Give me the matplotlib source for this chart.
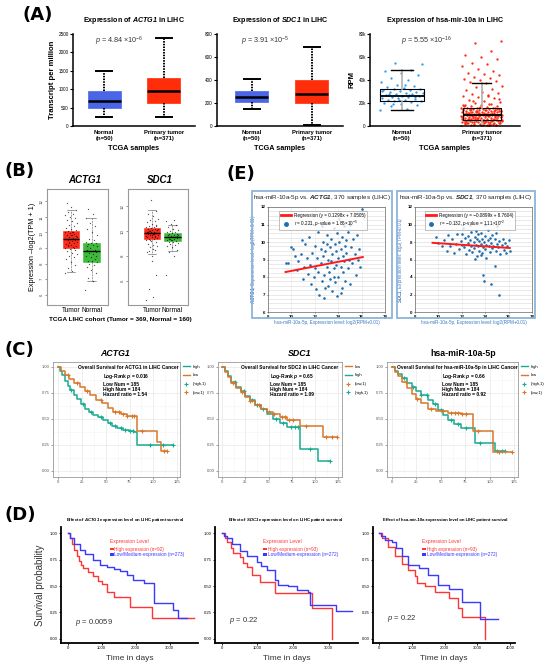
import numpy as np
import matplotlib.pyplot as plt
from matplotlib.patches import Rectangle
from matplotlib.lines import Line2D
from matplotlib.ticker import AutoMinorLocator

plt.rcParams['font.family'] = ['Liberation Sans', 'DejaVu Sans']
plt.rcParams['mathtext.fontset'] = 'custom'
plt.rcParams['mathtext.rm'] = 'Liberation Sans'
plt.rcParams['mathtext.it'] = 'Liberation Sans:italic'
plt.rcParams['mathtext.bf'] = 'Liberation Sans:bold'
plt.rcParams['mathtext.cal'] = 'Liberation Sans:italic:bold'   # used for bold italic gene names

# ---------------- (A) TCGA box plots ----------------
groups_a = ['Normal\n(n=50)', 'Primary tumor\n(n=371)']
# whisker low, q1, median, q3, whisker high
actg1_tpm = [[250, 500, 680, 950, 1500], [250, 620, 960, 1310, 2380]]
sdc1_tpm = [[145, 210, 250, 305, 405], [10, 200, 280, 400, 690]]
mir_rpm = [[13.5, 22, 26, 32, 49], [0, 5, 10, 16, 37]]  # thousands
p_a = ['4.84', '3.91', '5.55']
p_a_exp = ['-6', '-5', '-16']
mir_normal_pts = [13.5, 15, 17, 18, 19, 20, 21, 21.5, 22, 22.5, 23, 23.5, 24, 24.5, 25, 25.5,
                  26, 26.5, 27, 27.5, 28, 28.5, 29, 29.5, 30, 30.5, 31, 31.5, 32, 32.5, 33, 34,
                  35, 36, 38, 40, 42, 44, 46, 48, 49, 55, 54, 35.5, 28.2, 25.2, 22.3, 30.2, 27.3, 19.5]
mir_tumor_pts = [0.2, 0.5, 0.8, 1, 1.2, 1.5, 1.8, 2, 2.2, 2.5, 2.8, 3, 3.2, 3.4, 3.6, 3.8, 4, 4.1,
                 4.2, 4.3, 4.4, 4.5, 4.6, 4.7, 4.8, 4.9, 5, 0.3, 1.1, 2.6,
                 5.2, 5.4, 5.6, 5.8, 6, 6.2, 6.4, 6.6, 6.8, 7, 7.2, 7.4, 7.6, 7.8, 8, 8.2, 8.4,
                 8.6, 8.8, 9, 9.1, 9.2, 9.3, 9.4, 9.5, 9.6, 9.7, 9.8, 9.9, 10,
                 10.2, 10.4, 10.6, 10.8, 11, 11.2, 11.4, 11.6, 11.8, 12, 12.2, 12.4, 12.6, 12.8,
                 13, 13.2, 13.4, 13.6, 13.8, 14, 14.2, 14.4, 14.6, 14.8, 15, 15.2, 15.4, 15.6, 15.8, 16,
                 16.5, 17, 17.5, 18, 18.5, 19, 20, 21, 22, 23, 24, 25, 26, 27, 28, 29, 30, 31, 32,
                 34, 35, 37, 38, 39, 40, 41, 42, 43, 44, 45, 46, 48, 50, 52, 54, 55, 58, 60, 62, 65, 72, 74,
                 3.3, 6.1, 8.7, 11.5, 14.1, 2.1, 7.3, 12.9, 4.4, 9.9, 1.7, 13.3, 5.5, 10.7, 15.1,
                 0.6, 1.4, 2.4, 3.1, 3.9, 4.6, 5.3, 5.9, 6.5, 7.1, 7.7, 8.3, 8.9, 9.4, 10.1, 10.9,
                 11.7, 12.3, 13.1, 13.9, 14.7, 15.5, 16.8, 17.8, 19.5, 21.5, 23.5, 0.9, 2.9, 4.8,
                 6.9, 8.5, 10.5, 12.1, 14.5, 1.3, 3.7, 5.1, 6.3, 7.9, 9.2, 11.1, 12.7, 15.9, 18.2, 26.5]

# ---------------- (B) GEPIA box plots ----------------
groups_b = ['Tumor', 'Normal']
actg1_log = [[7.45, 9.0, 9.6, 10.1, 11.45], [6.9, 8.1, 8.8, 9.35, 10.9]]
sdc1_log = [[8.2, 9.34, 9.87, 10.26, 11.7], [8.4, 9.23, 9.52, 9.87, 10.5]]
actg1_tumor_pts = [7.4, 7.5, 7.7, 7.9, 8.1, 8.3, 8.4, 8.5, 8.6, 8.7, 8.8, 8.9, 8.95, 9.0, 9.05, 9.1,
                   9.15, 9.2, 9.25, 9.3, 9.35, 9.4, 9.45, 9.5, 9.55, 9.6, 9.6, 9.65, 9.7, 9.75, 9.8,
                   9.85, 9.9, 9.95, 10.0, 10.05, 10.1, 10.15, 10.2, 10.3, 10.4, 10.5, 10.6, 10.7,
                   10.8, 10.9, 11.0, 11.1, 11.2, 11.3, 11.45, 11.6, 11.9, 9.0, 9.4, 9.7, 10.0, 9.2, 9.5, 9.8]
actg1_normal_pts = [6.3, 6.9, 7.1, 7.4, 7.6, 7.8, 7.9, 8.0, 8.1, 8.15, 8.2, 8.3, 8.4, 8.5, 8.6, 8.7,
                    8.75, 8.8, 8.85, 8.9, 9.0, 9.1, 9.2, 9.25, 9.3, 9.35, 9.4, 9.5, 9.6, 9.8, 10.0,
                    10.2, 10.4, 10.6, 10.9, 11.2, 11.5, 8.5, 8.8, 9.1]
sdc1_tumor_pts = [4.5, 4.75, 5.4, 6.5, 8.0, 8.3, 8.5, 8.7, 8.8, 8.9, 9.0, 9.1, 9.2, 9.3, 9.35, 9.4,
                  9.45, 9.5, 9.55, 9.6, 9.65, 9.7, 9.75, 9.8, 9.85, 9.9, 9.9, 9.95, 10.0, 10.05,
                  10.1, 10.15, 10.2, 10.25, 10.3, 10.35, 10.4, 10.5, 10.6, 10.7, 10.8, 10.9, 11.0,
                  11.2, 11.4, 11.6, 12.5, 9.6, 9.8, 10.0, 10.1, 9.7, 9.9, 9.5, 9.3, 10.2, 8.6, 8.4, 10.4, 7.6]
sdc1_normal_pts = [6.5, 8.0, 8.3, 8.5, 8.7, 8.8, 8.9, 9.0, 9.05, 9.1, 9.15, 9.2, 9.25, 9.3, 9.35,
                   9.4, 9.45, 9.5, 9.5, 9.55, 9.6, 9.65, 9.7, 9.75, 9.8, 9.85, 9.9, 9.95, 10.0,
                   10.1, 10.2, 10.3, 10.45, 10.6, 10.8, 10.9, 9.4, 9.6, 9.3, 9.7]

# ---------------- (E) correlation scatter ----------------
e_actg1_x = [9.5, 9.7, 10.0, 10.1, 10.3, 10.5, 10.6, 10.8, 10.9, 11.0, 11.1, 11.2, 11.3, 11.4, 11.5,
             11.6, 11.7, 11.8, 11.9, 12.0, 12.0, 12.1, 12.2, 12.3, 12.3, 12.4, 12.5, 12.5, 12.6, 12.7,
             12.7, 12.8, 12.8, 12.9, 13.0, 13.0, 13.1, 13.1, 13.2, 13.2, 13.3, 13.3, 13.4, 13.4, 13.5,
             13.5, 13.6, 13.6, 13.7, 13.7, 13.8, 13.8, 13.9, 13.9, 14.0, 14.0, 14.1, 14.1, 14.2, 14.2,
             14.3, 14.3, 14.4, 14.4, 14.5, 14.5, 14.6, 14.6, 14.7, 14.8, 14.8, 14.9, 15.0, 15.0, 15.1,
             15.2, 15.3, 15.4, 15.5, 15.6, 15.7, 15.8, 15.9, 16.0, 13.0, 12.6, 14.2, 13.6, 12.9, 14.7]
e_actg1_y = [8.8, 8.8, 9.7, 9.6, 9.2, 8.4, 8.9, 9.3, 10.1, 7.9, 8.6, 9.9, 9.1, 8.2, 10.3,
             8.7, 7.6, 9.4, 8.0, 9.8, 8.5, 7.3, 9.1, 10.6, 8.3, 7.0, 9.6, 8.8, 7.8, 10.0,
             9.2, 8.1, 6.8, 9.5, 8.6, 10.4, 7.5, 9.0, 8.3, 11.1, 9.7, 7.9, 8.9, 10.2, 7.2,
             9.3, 8.5, 10.8, 9.9, 7.7, 8.7, 9.5, 10.5, 6.9, 9.1, 8.0, 10.0, 11.3, 8.6, 9.6,
             7.4, 10.3, 9.2, 8.3, 10.9, 8.9, 9.8, 7.8, 9.4, 10.6, 8.5, 9.0, 11.0, 7.6, 9.7,
             8.8, 10.2, 9.3, 8.1, 10.4, 9.0, 9.6, 8.6, 11.9, 9.9, 10.9, 7.1, 8.0, 7.4, 10.1]
e_sdc1_x = [9.8, 10.0, 10.3, 10.5, 10.7, 10.8, 11.0, 11.2, 11.3, 11.5, 11.6, 11.8, 11.9, 12.0, 12.1,
            12.2, 12.3, 12.4, 12.5, 12.5, 12.6, 12.7, 12.8, 12.8, 12.9, 13.0, 13.0, 13.1, 13.2, 13.2,
            13.3, 13.3, 13.4, 13.4, 13.5, 13.5, 13.6, 13.6, 13.7, 13.7, 13.8, 13.8, 13.9, 13.9, 14.0,
            14.0, 14.1, 14.1, 14.2, 14.2, 14.3, 14.3, 14.4, 14.4, 14.5, 14.5, 14.6, 14.6, 14.7, 14.8,
            14.8, 14.9, 15.0, 15.0, 15.1, 15.2, 15.2, 15.3, 15.4, 15.5, 15.6, 15.7, 15.8, 15.9, 16.0,
            16.1, 12.0, 13.1, 14.0, 12.7, 13.6, 14.9]
e_sdc1_y = [8.6, 7.9, 7.5, 8.2, 7.0, 8.8, 7.6, 8.3, 6.8, 7.8, 8.9, 7.2, 8.1, 7.7, 9.6,
            7.4, 8.5, 6.6, 7.9, 8.7, 7.1, 8.2, 7.6, 9.1, 6.9, 8.0, 7.3, 8.6, 7.7, 9.3,
            6.4, 8.3, 7.5, 8.9, 7.0, 8.1, 7.8, 9.0, 6.7, 8.4, 7.4, 4.2, 8.0, 3.5, 7.2,
            8.7, 7.7, 6.2, 8.2, 9.4, 7.5, 11.2, 8.5, 6.9, 7.9, 3.2, 7.3, 8.8, 7.6, 5.3,
            8.3, 7.0, 7.8, 9.8, 7.4, 2.0, 8.1, 6.6, 7.7, 8.4, 7.1, 7.9, 6.8, 7.5, 8.2,
            7.0, 8.9, 6.1, 10.0, 9.9, 6.5, 9.0]
reg_actg1 = [0.1298, 7.0505]
reg_sdc1 = [-0.0899, 8.7604]

# ---------------- (C) KM plotter (months) ----------------
c_actg1_high_t = [0, 2, 4, 7, 10, 13, 17, 20, 24, 28, 32, 37, 42, 47, 52, 57, 62, 68, 74, 80, 83, 121]
c_actg1_high_s = [1.0, 0.96, 0.92, 0.87, 0.82, 0.78, 0.73, 0.69, 0.64, 0.60, 0.57, 0.54, 0.52, 0.49,
                  0.46, 0.43, 0.41, 0.39, 0.38, 0.37, 0.25, 0.25]
c_actg1_low_t = [0, 3, 7, 12, 17, 23, 28, 34, 40, 46, 52, 58, 66, 72, 83, 104, 108, 114]
c_actg1_low_s = [1.0, 0.96, 0.92, 0.88, 0.85, 0.81, 0.77, 0.73, 0.68, 0.65, 0.61, 0.57, 0.55, 0.53,
                 0.38, 0.28, 0.19, 0.19]
c_actg1_high_cens = [14, 26, 35, 45, 55, 60, 66, 70, 76, 79, 96, 110, 121]
c_actg1_low_cens = [10, 20, 30, 45, 60, 64, 68, 72, 78, 80, 88, 111, 114]
c_sdc1_low_t = [0, 3, 6, 10, 15, 20, 25, 30, 36, 42, 48, 55, 62, 70, 84, 109, 124]
c_sdc1_low_s = [1.0, 0.95, 0.90, 0.85, 0.80, 0.76, 0.71, 0.67, 0.63, 0.60, 0.57, 0.55, 0.52, 0.49,
                0.43, 0.33, 0.33]
c_sdc1_high_t = [0, 3, 6, 10, 15, 20, 25, 30, 36, 42, 48, 55, 62, 70, 84, 103, 116]
c_sdc1_high_s = [1.0, 0.96, 0.91, 0.86, 0.81, 0.77, 0.72, 0.68, 0.63, 0.60, 0.55, 0.50, 0.46, 0.42,
                 0.21, 0.10, 0.10]
c_sdc1_low_cens = [12, 22, 30, 40, 50, 56, 64, 68, 72, 76, 90, 112, 118, 124]
c_sdc1_high_cens = [14, 24, 32, 38, 44, 58, 66, 74, 78, 82, 95, 116]
c_mir_high_t = [0, 3, 6, 10, 15, 20, 25, 30, 37, 42, 47, 52, 57, 63, 71, 85, 105, 116]
c_mir_high_s = [1.0, 0.96, 0.93, 0.89, 0.85, 0.81, 0.77, 0.73, 0.68, 0.64, 0.59, 0.54, 0.49, 0.45,
                0.41, 0.27, 0.195, 0.195]
c_mir_low_t = [0, 3, 6, 10, 15, 20, 25, 30, 37, 45, 57, 71, 83, 103, 123]
c_mir_low_s = [1.0, 0.95, 0.91, 0.86, 0.80, 0.74, 0.69, 0.65, 0.60, 0.58, 0.56, 0.55, 0.38, 0.185, 0.185]
c_mir_high_cens = [12, 22, 30, 36, 44, 50, 60, 68, 76, 90, 108, 113, 116]
c_mir_low_cens = [14, 26, 40, 52, 60, 64, 68, 72, 76, 88, 110, 123]

# ---------------- (D) KM (days) ----------------
d_actg1_high_t = [0, 60, 130, 200, 264, 330, 400, 460, 600, 750, 900, 1000, 1150, 1350, 1830, 2470, 3700]
d_actg1_high_s = [1.0, 0.95, 0.90, 0.84, 0.78, 0.74, 0.70, 0.67, 0.63, 0.59, 0.55, 0.52, 0.44, 0.40,
                  0.305, 0.20, 0.20]
d_actg1_low_t = [0, 80, 180, 360, 500, 750, 950, 1150, 1350, 1540, 1750, 1930, 2230, 2530, 3100, 3250, 3500]
d_actg1_low_s = [1.0, 0.95, 0.90, 0.84, 0.80, 0.75, 0.70, 0.68, 0.66, 0.64, 0.60, 0.56, 0.53, 0.34,
                 0.27, 0.20, 0.20]
d_sdc1_high_t = [0, 80, 140, 250, 330, 510, 600, 700, 850, 1070, 1500, 2520, 3100]
d_sdc1_high_s = [1.0, 0.95, 0.92, 0.86, 0.81, 0.77, 0.72, 0.68, 0.60, 0.54, 0.43, 0.29, 0.0]
d_sdc1_low_t = [0, 60, 140, 300, 510, 700, 980, 1100, 1260, 1500, 1590, 1860, 2100, 2420, 2480, 3210, 3640]
d_sdc1_low_s = [1.0, 0.97, 0.95, 0.90, 0.83, 0.78, 0.73, 0.69, 0.65, 0.56, 0.51, 0.50, 0.46, 0.44,
                0.32, 0.26, 0.26]
d_mir_high_t = [0, 75, 275, 480, 690, 890, 1095, 1150, 1400, 1710, 2120, 2420, 2520, 3240]
d_mir_high_s = [1.0, 0.95, 0.87, 0.78, 0.71, 0.65, 0.59, 0.53, 0.50, 0.445, 0.385, 0.295, 0.205, 0.0]
d_mir_low_t = [0, 60, 170, 375, 500, 690, 890, 1200, 1500, 1810, 2120, 2520, 3080, 3640]
d_mir_low_s = [1.0, 0.97, 0.93, 0.92, 0.86, 0.78, 0.70, 0.67, 0.60, 0.51, 0.47, 0.35, 0.185, 0.185]
d_n_high = [92, 93, 93]
d_n_low = [273, 272, 272]
d_p = ['0.0059', '0.22', '0.22']

W, H = 550, 669
fig = plt.figure(figsize=(W / 100, H / 100), dpi=100)


def px_axes(x0, y0, x1, y1):
    # pixel box measured from the top-left corner of the picture
    return fig.add_axes([x0 / W, 1 - y1 / H, (x1 - x0) / W, (y1 - y0) / H])


def ftext(x, y, s, **kw):
    fig.text(x / W, 1 - y / H, s, **kw)


def spread(n, width):
    # evenly scattered strip offsets (golden ratio sequence)
    return ((np.arange(n) * 0.6180339887) % 1 - 0.5) * 2 * width


def surv_at(t, s, x):
    i = np.searchsorted(t, x, side='right') - 1
    return np.array(s)[np.clip(i, 0, len(s) - 1)]


def to_stats(rows):
    return [dict(whislo=r[0], q1=r[1], med=r[2], q3=r[3], whishi=r[4], fliers=[]) for r in rows]


# panel letters
for lab, x, y in [('(A)', 22, 15), ('(B)', 4, 171), ('(E)', 226, 174), ('(C)', 5, 350), ('(D)', 4, 515)]:
    ftext(x, y, lab, fontsize=13, fontweight='bold', va='center', ha='left', family='DejaVu Sans')

# ---------------- (A) ----------------
a_boxes = [(73, 195, actg1_tpm, (0.48, 2.52), 2500, r'Expression of $\mathcal{ACTG1}$ in LIHC', 134),
           (217, 343, sdc1_tpm, (0.42, 2.52), 800, r'Expression of $\mathcal{SDC1}$ in LIHC', 280),
           (370, 520, mir_rpm, (0.6, 2.48), 80, 'Expression of hsa-mir-10a in LIHC', 445)]
for k, (x0, x1, rows, xl, ytop, title, xc) in enumerate(a_boxes):
    ax = px_axes(x0, 34, x1, 126)
    if k < 2:
        b = ax.bxp(to_stats(rows), positions=[1, 2], widths=0.55, patch_artist=True, showfliers=False,
                   medianprops=dict(color='black', lw=1.8),
                   whiskerprops=dict(color='black', lw=1.4, ls=(0, (0.8, 0.6))),
                   capprops=dict(color='black', lw=1.4), boxprops=dict(lw=0.5))
        for patch, c in zip(b['boxes'], ['#4a66e6', '#ff2d0a']):
            patch.set_facecolor(c)
            patch.set_edgecolor(c)
        ax.set_yticks(np.linspace(0, ytop, 6 if k == 0 else 5))
    else:
        ax.scatter(1 + spread(len(mir_normal_pts), 0.27), mir_normal_pts, s=2.8, color='#2f9cf4', lw=0, zorder=2)
        ax.scatter(2 + spread(len(mir_tumor_pts), 0.26), mir_tumor_pts, s=2.8, color='#ff2a10', lw=0, zorder=2)
        ax.bxp(to_stats(rows), positions=[1, 2], widths=[0.56, 0.48], showfliers=False,
               medianprops=dict(color='black', lw=1.3),
               whiskerprops=dict(color='#b0b0b0', lw=1.2),
               capprops=dict(color='black', lw=1.0), boxprops=dict(lw=0.8, color='black'))
        ax.set_yticks([0, 20, 40, 60, 80])
        ax.set_yticklabels(['0', '20k', '40k', '60k', '80k'])
        ax.set_ylabel('RPM', fontsize=5.5, fontweight='bold', labelpad=2)
    if k == 0:
        ax.set_ylabel('Transcript per million', fontsize=5.6, fontweight='bold', labelpad=2)
    ax.set_xlim(*xl)
    ax.set_ylim(0, ytop)
    ax.set_xticks([1, 2])
    ax.set_xticklabels(groups_a, fontsize=4.2, fontweight='bold', linespacing=1.1)
    for sp in ['top', 'right']:
        ax.spines[sp].set_visible(False)
    for sp in ['left', 'bottom']:
        ax.spines[sp].set_linewidth(1.1)
    ax.tick_params(axis='y', labelsize=3.3, length=2, width=0.8, pad=1)
    ax.tick_params(axis='x', length=0, pad=3)
    ax.text(0.38, 0.92, r'$p$ = %s $\times10^{%s}$' % (p_a[k], p_a_exp[k]), transform=ax.transAxes,
            fontsize=5.2, color='#333333', ha='center', va='center')
    ftext(xc, 20, title, fontsize=5.1, fontweight='bold', ha='center', va='center')
    ftext(xc, 148, 'TCGA samples', fontsize=5.2, fontweight='bold', ha='center', va='center')

# ---------------- (B) ----------------
b_panels = [(47, 108, actg1_log, actg1_tumor_pts, actg1_normal_pts, (5.36, 12.77), (-0.17, 2.8),
             [6, 7, 8, 9, 10, 11, 12], 'ACTG1', 85),
            (128, 188, sdc1_log, sdc1_tumor_pts, sdc1_normal_pts, (4.08, 13.36), (-0.17, 2.76),
             [6, 8, 10, 12], 'SDC1', 160)]
for x0, x1, rows, tum, nor, yl, xl, yt, gene, xc in b_panels:
    ax = px_axes(x0, 189, x1, 305)
    b = ax.bxp(to_stats(rows), positions=[1, 2], widths=0.8, patch_artist=True, showfliers=False,
               medianprops=dict(color='black', lw=1.0),
               whiskerprops=dict(color='#555555', lw=0.4, ls='--'),
               capprops=dict(color='#555555', lw=0.4), boxprops=dict(lw=0.4))
    for patch, c in zip(b['boxes'], ['#ff2a1a', '#3dbb3a']):
        patch.set_facecolor(c)
        patch.set_edgecolor(c)
    ax.scatter(1 + spread(len(tum), 0.3), tum, s=0.9, color='black', alpha=0.65, lw=0, zorder=3)
    ax.scatter(2 + spread(len(nor), 0.3), nor, s=0.9, color='black', alpha=0.65, lw=0, zorder=3)
    ax.set_xlim(*xl)
    ax.set_ylim(*yl)
    ax.set_yticks(yt)
    ax.set_xticks([1, 2])
    ax.set_xticklabels(groups_b, fontsize=4.7)
    ax.tick_params(axis='x', length=0, pad=1.5)
    ax.tick_params(axis='y', labelsize=3.2, length=1.5, width=0.4, pad=1, labelrotation=90, colors='#444444')
    for sp in ax.spines.values():
        sp.set_color('#999999')
        sp.set_linewidth(0.8)
    ftext(xc, 180, gene, fontsize=7, fontweight='bold', style='italic', ha='center', va='center')
ftext(32, 247, 'Expression \u2013log2(TPM + 1)', fontsize=5.2, rotation=90, ha='center', va='center')
ftext(120, 320, 'TCGA LIHC cohort (Tumor = 369, Normal = 160)', fontsize=4.6, fontweight='bold',
      ha='center', va='center')

# ---------------- (E) ----------------
e_panels = [(252, 392, 268, 385, e_actg1_x, e_actg1_y, reg_actg1, (6, 12), 1,
             r'hsa-miR-10a-5p vs. $\mathcal{ACTG1}$, 370 samples (LIHC)',
             r'$\mathcal{ACTG1}$, Expression level: log2(TPM+0.01)',
             'Regression (y = 0.1298x + 7.0505)', r'$r$ = 0.221, $p$-value = 1.86$\times10^{-5}$'),
            (397, 535, 415, 532, e_sdc1_x, e_sdc1_y, reg_sdc1, (0, 12), 2,
             r'hsa-miR-10a-5p vs. $\mathcal{SDC1}$, 370 samples (LIHC)',
             r'$\mathcal{SDC1}$, Expression level: log2(TPM+0.01)',
             'Regression (y = \u22120.0899x + 8.7604)',
             '$r$ = \u22120.132, $p$-value = 1.11$\\times10^{-2}$')]
for fx0, fx1, x0, x1, xs, ys, reg, yl, ystep, title, ylab, lab1, lab2 in e_panels:
    fig.add_artist(Rectangle((fx0 / W, 1 - 318 / H), (fx1 - fx0) / W, (318 - 191) / H,
                             transform=fig.transFigure, fill=False, edgecolor='#8db3da', lw=1.3))
    ftext((fx0 + fx1) / 2, 198, title, fontsize=4.5, ha='center', va='center', color='#222222')
    ax = px_axes(x0, 207, x1, 312)
    ax.scatter(xs, ys, s=3.5, color='#1f6fae', lw=0, zorder=3)
    xr = np.array([9.5, 16.1])
    ax.plot(xr, reg[0] * xr + reg[1], color='#ff1a1a', lw=1.4, zorder=4)
    ax.set_xlim(8, 18)
    ax.set_ylim(*yl)
    ax.set_xticks([8, 10, 12, 14, 16, 18])
    ax.set_yticks(np.arange(yl[0], yl[1] + 0.1, ystep))
    ax.yaxis.set_minor_locator(AutoMinorLocator(4))
    ax.grid(True, which='both', axis='y', color='#d9d9d9', lw=0.4)
    ax.grid(True, which='major', axis='x', color='#e6e6e6', lw=0.4)
    ax.set_axisbelow(True)
    ax.tick_params(which='both', labelsize=3.2, length=1, width=0.4, pad=1)
    ax.tick_params(which='minor', length=0)
    for t in ax.get_xticklabels() + ax.get_yticklabels():
        t.set_fontweight('bold')
    for sp in ax.spines.values():
        sp.set_color('#666666')
        sp.set_linewidth(0.5)
    ax.set_ylabel(ylab, fontsize=3.3, color='#3a78c0', labelpad=2)
    ax.set_xlabel('hsa-miR-10a-5p, Expression level: log2(RPM+0.01)', fontsize=3.3, color='#3a78c0', labelpad=1)
    handles = [Line2D([], [], color='#ff1a1a', lw=2),
               Line2D([], [], ls='', marker='o', ms=2.5, color='#1f6fae')]
    leg = ax.legend(handles, [lab1, lab2], loc='upper center', bbox_to_anchor=(0.47, 0.98), fontsize=3.3,
                    frameon=True, fancybox=False, edgecolor='#777777', borderpad=0.3, handlelength=2.2,
                    labelspacing=0.2, handletextpad=0.6)
    leg.get_frame().set_linewidth(0.4)

# ---------------- (C) ----------------
teal, orange = '#17ab91', '#d9772b'
c_panels = [(53, 180, (-5.3, 128), 'ACTG1', 'italic', 115,
             [(c_actg1_high_t, c_actg1_high_s, c_actg1_high_cens, teal),
              (c_actg1_low_t, c_actg1_low_s, c_actg1_low_cens, orange)],
             ['high', 'low', '(high,1)', '(low,1)'], [teal, orange, teal, orange],
             'Overall Survival for ACTG1 in LIHC Cancer', 0.59, 0.39,
             r'Log-Rank $\mathcal{p}$ = 0.016' + '\nLow Num = 185\nHigh Num = 184\nHazard ratio = 1.54'),
            (218, 342, (-4.3, 129), 'SDC1', 'italic', 300,
             [(c_sdc1_high_t, c_sdc1_high_s, c_sdc1_high_cens, teal),
              (c_sdc1_low_t, c_sdc1_low_s, c_sdc1_low_cens, orange)],
             ['low', 'high', '(low,1)', '(high,1)'], [orange, teal, orange, teal],
             'Overall Survival for SDC2 in LIHC Cancer', 0.58, 0.42,
             r'Log-Rank $\mathcal{p}$ = 0.65' + '\nLow Num = 185\nHigh Num = 184\nHazard ratio = 1.09'),
            (387, 518, (-5.1, 129), 'hsa-miR-10a-5p', 'normal', 463,
             [(c_mir_high_t, c_mir_high_s, c_mir_high_cens, teal),
              (c_mir_low_t, c_mir_low_s, c_mir_low_cens, orange)],
             ['high', 'low', '(high,1)', '(low,1)'], [teal, orange, teal, orange],
             'Overall Survival for hsa-miR-10a-5p in LIHC Cancer', 0.54, 0.42,
             r'Log-Rank $\mathcal{p}$ = 0.66' + '\nLow Num = 185\nHigh Num = 184\nHazard ratio = 0.92')]
for x0, x1, xl, gene, st, xc, curves, labs, cols, head, hx, lx, body in c_panels:
    ax = px_axes(x0, 362, x1, 477)
    for t, s, cens, c in curves:
        ax.step(t, s, where='post', color=c, lw=1.1)
        ax.plot(cens, surv_at(t, s, cens), ls='', marker='+', ms=2.8, mew=0.8, color=c)
    ax.set_xlim(*xl)
    ax.set_ylim(-0.058, 1.048)
    ax.set_xticks([0, 25, 50, 75, 100, 125])
    ax.set_yticks([0, 0.25, 0.5, 0.75, 1.0])
    ax.set_yticklabels(['0.00', '0.25', '0.50', '0.75', '1.00'])
    ax.xaxis.set_minor_locator(AutoMinorLocator(2))
    ax.yaxis.set_minor_locator(AutoMinorLocator(2))
    ax.grid(True, which='major', color='#e8e8e8', lw=0.5)
    ax.grid(True, which='minor', color='#f3f3f3', lw=0.4)
    ax.set_axisbelow(True)
    ax.tick_params(which='both', labelsize=3, colors='#555555', length=1.2, width=0.4, pad=1)
    ax.tick_params(which='minor', length=0)
    for sp in ax.spines.values():
        sp.set_color('#9a9a9a')
        sp.set_linewidth(0.6)
    ax.text(hx, 0.955, head, transform=ax.transAxes, fontsize=3.5, fontweight='bold', ha='center', va='center')
    ax.text(lx, 0.91, body, transform=ax.transAxes, fontsize=3.5, fontweight='bold', ha='left', va='top',
            linespacing=1.05)
    handles = [Line2D([], [], color=cols[0], lw=1), Line2D([], [], color=cols[1], lw=1),
               Line2D([], [], ls='', marker='+', ms=2.5, mew=0.8, color=cols[2]),
               Line2D([], [], ls='', marker='+', ms=2.5, mew=0.8, color=cols[3])]
    ax.legend(handles, labs, loc='upper left', bbox_to_anchor=(1.0, 1.0), fontsize=3, frameon=False,
              handlelength=1.6, labelspacing=1.1, borderaxespad=0.3)
    ftext(xc, 353, gene, fontsize=6.3, fontweight='bold', style=st, ha='center', va='center')

# ---------------- (D) ----------------
red, blue = '#ff3535', '#3939ff'
d_panels = [(61, 198, (-197, 3832), [0, 1000, 2000, 3000],
             [(d_actg1_high_t, d_actg1_high_s, red), (d_actg1_low_t, d_actg1_low_s, blue)],
             r'Effect of $\mathcal{ACTG1}$ expression level on LIHC patient survival', 125, 110, 75, 622),
            (215, 358, (-188, 3818), [0, 1000, 2000, 3000],
             [(d_sdc1_high_t, d_sdc1_high_s, red), (d_sdc1_low_t, d_sdc1_low_s, blue)],
             r'Effect of $\mathcal{SDC1}$ expression level on LIHC patient survival', 286, 263, 229, 621),
            (373, 515, (-193, 4150), [0, 1000, 2000, 3000, 4000],
             [(d_mir_high_t, d_mir_high_s, red), (d_mir_low_t, d_mir_low_s, blue)],
             'Effect of hsa-mir-10a expression level on LIHC patient survival', 445, 422, 387, 619)]
for k, (x0, x1, xl, xt, curves, title, tc, lgx, px, py) in enumerate(d_panels):
    ax = px_axes(x0, 527, x1, 643)
    for t, s, c in curves:
        ax.step(t, s, where='post', color=c, lw=1.0)
    ax.set_xlim(*xl)
    ax.set_ylim(-0.038, 1.057)
    ax.set_xticks(xt)
    ax.set_yticks([0, 0.25, 0.5, 0.75, 1.0])
    ax.set_yticklabels(['0.00', '0.25', '0.50', '0.75', '1.00'])
    for sp in ['top', 'right']:
        ax.spines[sp].set_visible(False)
    for sp in ['left', 'bottom']:
        ax.spines[sp].set_linewidth(1.3)
    ax.tick_params(labelsize=3, length=1.5, width=0.6, pad=1)
    ax.set_xlabel('Time in days', fontsize=6, labelpad=3, color='#333333')
    if k == 0:
        ax.set_ylabel('Survival probability', fontsize=7, labelpad=3, color='#333333')
    ftext(tc, 520, title, fontsize=3.1, fontweight='bold', ha='center', va='center')
    ftext(lgx, 542, 'Expression Level', fontsize=3.6, color=red, ha='left', va='center')
    for j, (lab, c) in enumerate([('High expression (n=%d)' % d_n_high[k], red),
                                  ('Low/Medium-expression (n=%d)' % d_n_low[k], blue)]):
        yy = 549 + j * 5.5
        fig.add_artist(Rectangle((lgx / W, 1 - (yy + 1.2) / H), 4 / W, 2.4 / H,
                                 transform=fig.transFigure, color=c, lw=0))
        ftext(lgx + 4.5, yy, lab, fontsize=3.4, color=c, ha='left', va='center')
    ftext(px, py, r'$p$ = ' + d_p[k], fontsize=5.5, color='#333333', ha='left', va='center')

fig.savefig('out.png', dpi=100)
